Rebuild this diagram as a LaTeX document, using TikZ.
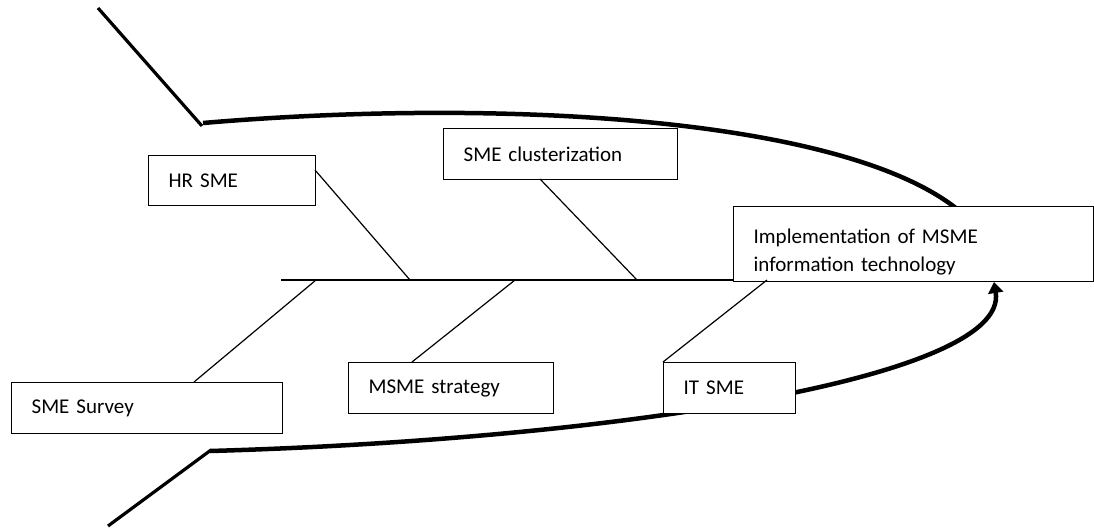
\documentclass[tikz,border=0pt]{standalone}
\usepackage{fontspec}
\setmainfont{Carlito}
\usetikzlibrary{arrows.meta}
\newcommand\myboxfont{\fontsize{21}{28}\selectfont\spaceskip=3pt plus 1pt\relax}
\begin{document}
\begin{tikzpicture}[x=1pt,y=-1pt,
  box/.style={draw, fill=white, line width=1.3pt, inner xsep=20pt, inner ysep=0pt,
    align=left, anchor=north west, font=\myboxfont},
  bone/.style={line width=1.2pt},
  tail/.style={line width=3.2pt},
  body/.style={line width=4.5pt}]
\useasboundingbox (0,0) rectangle (1094,529);
% tails and body outline
\coordinate (t1) at (98,8);
\coordinate (t1e) at (202,126);
\coordinate (c1) at (203,123);
\coordinate (c1e) at (980,232);
\coordinate (t2) at (108,526);
\coordinate (t2e) at (211,450);
\coordinate (c2) at (210,451);
\coordinate (c2e) at (994,282);
\draw[tail] (t1) -- (t1e);
\draw[tail] (t2) -- (t2e);
\draw[body] (c1) .. controls (520,96) and (895,120) .. (c1e);
\draw[body, -{Triangle[width=15pt,length=11pt]}] (c2) .. controls (600,440) and (1010,380) .. (c2e);
% spine
\coordinate (sp0) at (281,280);
\coordinate (sp1) at (410,280);
\coordinate (sp2) at (637,280);
\coordinate (sp3) at (316,280);
\coordinate (sp4) at (515,280);
\coordinate (sp5) at (767,280);
\coordinate (sp6) at (733,280);
% boxes
\node[box, minimum width=167pt, minimum height=50pt, text width=127pt] (hr) at (148,155) {HR SME};
\node[box, minimum width=234pt, minimum height=51pt, text width=194pt] (clus) at (443,128) {SME clusterization};
\node[box, minimum width=360pt, minimum height=75pt, text width=320pt] (impl) at (733,206) {\rule{0pt}{31pt}Implementation of MSME\\information technology};
\node[box, minimum width=271pt, minimum height=51pt, text width=231pt] (surv) at (11,382) {SME Survey};
\node[box, minimum width=205pt, minimum height=51pt, text width=165pt] (strat) at (348,362) {MSME strategy};
\node[box, minimum width=132pt, minimum height=51pt, text width=92pt] (it) at (663,362) {IT SME};
% bones
\coordinate (hrb) at (315,170);
\coordinate (clb) at (540,179);
\coordinate (svb) at (194,382);
\coordinate (stb) at (412,362);
\draw[bone] (sp0) -- (sp6);
\draw[bone] (hrb) -- (sp1);
\draw[bone] (clb) -- (sp2);
\draw[bone] (sp3) -- (svb);
\draw[bone] (sp4) -- (stb);
\draw[bone] (sp5) -- (it.north west);
\end{tikzpicture}
\end{document}
